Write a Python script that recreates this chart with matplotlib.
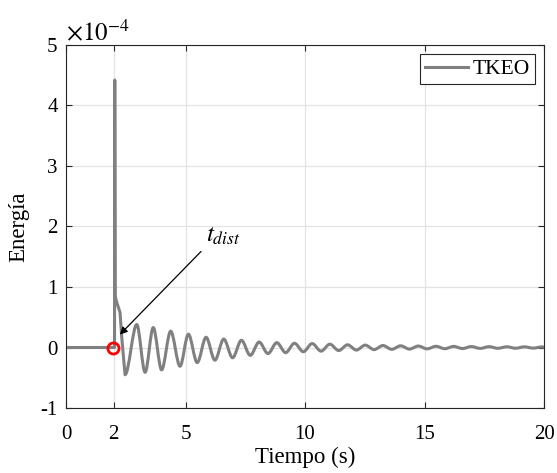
import matplotlib
matplotlib.use('Agg')
import matplotlib.pyplot as plt
from matplotlib.path import Path
from matplotlib.patches import PathPatch

plt.rcParams['font.family'] = ['Liberation Serif', 'DejaVu Serif']
plt.rcParams['mathtext.fontset'] = 'stix'
plt.rcParams['axes.unicode_minus'] = False

# datos (energia en unidades de 1e-4)
t_pre = [0.0, 2.03]
e_pre = [0.0, 0.0]

t_spike = [2.03, 2.04, 2.06, 2.12, 2.26, 2.34]
e_spike = [0.0, 4.42, 0.85, 0.75, 0.58, 0.13]

# extremos de la oscilacion amortiguada
t_osc = [2.47, 2.96, 3.31, 3.65, 4.00, 4.38, 4.77, 5.12, 5.49, 5.86,
         6.23, 6.60, 6.97, 7.34, 7.71, 8.08, 8.45, 8.82, 9.19, 9.56,
         9.93, 10.30, 10.67, 11.04, 11.41, 11.78, 12.15, 12.52, 12.89, 13.26,
         13.63, 14.00, 14.37, 14.74, 15.11, 15.48, 15.85, 16.22, 16.59, 16.96,
         17.33, 17.70, 18.07, 18.44, 18.81, 19.18, 19.55, 19.92, 20.0]
e_osc = [-0.45, 0.38, -0.41, 0.33, -0.37, 0.27, -0.31, 0.22, -0.25, 0.17,
         -0.21, 0.14, -0.17, 0.12, -0.13, 0.09, -0.10, 0.08, -0.085, 0.07,
         -0.07, 0.065, -0.06, 0.055, -0.05, 0.045, -0.042, 0.04, -0.035, 0.033,
         -0.03, 0.028, -0.026, 0.024, -0.022, 0.02, -0.02, 0.018, -0.017, 0.016,
         -0.015, 0.014, -0.013, 0.012, -0.012, 0.011, -0.01, 0.01, 0.005]

t_dist = 1.95
x_ticks = [0, 2, 5, 10, 15, 20]
y_ticks = [-1, 0, 1, 2, 3, 4, 5]
escala = 1e-4

# tramo recto (antes y durante el pico)
t_lin = t_pre + t_spike[1:] + t_osc[:1]
e_lin = [v * escala for v in e_pre + e_spike[1:] + e_osc[:1]]

verts = [(t_lin[0], e_lin[0])]
codes = [Path.MOVETO]
for ti, ei in zip(t_lin[1:], e_lin[1:]):
    verts.append((ti, ei))
    codes.append(Path.LINETO)
# oscilacion: curvas suaves entre extremos
for i in range(1, len(t_osc)):
    t1, t2 = t_osc[i - 1], t_osc[i]
    v1, v2 = e_osc[i - 1] * escala, e_osc[i] * escala
    dt = t2 - t1
    verts += [(t1 + dt / 3, v1), (t2 - dt / 3, v2), (t2, v2)]
    codes += [Path.CURVE4] * 3

gris = '#808080'

fig = plt.figure(figsize=(5.57, 4.73), dpi=100)
ax = fig.add_axes([0.1185, 0.1374, 0.8582, 0.7675])

ax.add_patch(PathPatch(Path(verts, codes), fill=False, edgecolor=gris,
                       linewidth=2.2, joinstyle='round', capstyle='round'))
ax.plot([], [], color=gris, linewidth=2.2, label='TKEO')
ax.plot([t_dist], [0], 'o', markersize=8, markerfacecolor='none',
        markeredgecolor='red', markeredgewidth=2)

ax.annotate('', xy=(2.17, 0.18 * escala), xytext=(5.73, 1.62 * escala),
            arrowprops=dict(arrowstyle='-|>', color='black', lw=0.9,
                            mutation_scale=11))
ax.text(5.85, 1.66 * escala, r'$t_{dist}$', fontsize=18, ha='left', va='bottom')

ax.set_xlim(0, 20)
ax.set_ylim(-1 * escala, 5 * escala)
ax.set_xticks(x_ticks)
ax.set_yticks([v * escala for v in y_ticks])
ax.set_yticklabels([str(v) for v in y_ticks])
ax.tick_params(direction='in', top=True, right=True, labelsize=15, length=4,
               width=0.8, colors='#262626', labelcolor='black')
ax.tick_params(axis='x', pad=12)
ax.tick_params(axis='y', pad=6)
for s in ax.spines.values():
    s.set_color('#262626')
    s.set_linewidth(0.8)
ax.grid(True, color='#e3e3e3', linewidth=0.9)
ax.set_axisbelow(True)

ax.set_xlabel('Tiempo (s)', fontsize=16.5, labelpad=2)
ax.set_ylabel('Energía', fontsize=16.5, labelpad=8)
ax.text(0.0, 1.0, r'$\times10^{-4}$', transform=ax.transAxes, fontsize=18,
        ha='left', va='bottom')

leg = ax.legend(loc='upper right', fancybox=False, framealpha=1,
                edgecolor='#262626', fontsize=15.5, handlelength=2.0,
                borderaxespad=0.4, borderpad=0.25, handletextpad=0.2)
leg.get_frame().set_linewidth(0.8)

fig.savefig('out.png', dpi=100)
